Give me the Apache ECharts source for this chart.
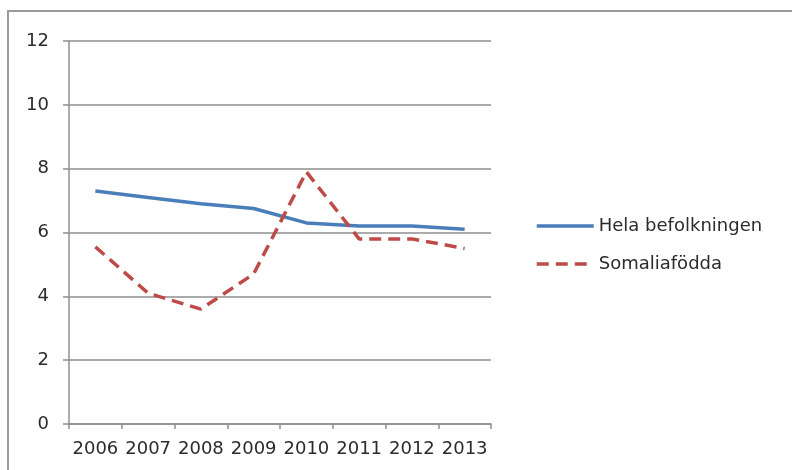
<!DOCTYPE html>
<html>
<head>
<meta charset="utf-8">
<script src="https://cdn.jsdelivr.net/npm/echarts@6/dist/echarts.min.js"></script>
<style>
html,body{margin:0;padding:0;background:#fff;overflow:hidden;}
#wrap{position:relative;width:792px;height:470px;overflow:hidden;}
#c{position:absolute;left:0;top:0;width:792px;height:470px;}
#frame{position:absolute;left:7px;top:10px;width:900px;height:600px;border-left:2px solid #9a9a9a;border-top:2px solid #9a9a9a;pointer-events:none;}
</style>
</head>
<body>
<div id="wrap">
<div id="c"></div>
<div id="frame"></div>
</div>
<script>
var years = ['2006','2007','2008','2009','2010','2011','2012','2013'];
var helaBefolkningen = [7.3, 7.1, 6.9, 6.75, 6.3, 6.2, 6.2, 6.1];
var somaliafodda = [5.55, 4.1, 3.6, 4.7, 7.9, 5.8, 5.8, 5.5];
var yTicks = [0, 2, 4, 6, 8, 10, 12];

var chart = echarts.init(document.getElementById('c'), null, {renderer: 'canvas'});
var axisGray = '#8f8f8f';
var textColor = '#2b2b2b';
chart.setOption({
  animation: false,
  backgroundColor: '#ffffff',
  grid: {left: 69, right: 301, top: 41, bottom: 46, containLabel: false},
  legend: {
    orient: 'vertical',
    left: 530,
    top: 212,
    itemWidth: 57,
    itemHeight: 14,
    itemGap: 20,
    itemStyle: {opacity: 0},
    lineStyle: {width: 3.5},
    textStyle: {fontFamily: 'DejaVu Sans', fontSize: 18, color: textColor},
    data: ['Hela befolkningen', 'Somaliafödda']
  },
  xAxis: {
    type: 'category',
    data: years,
    boundaryGap: true,
    axisLine: {lineStyle: {color: axisGray, width: 1.5}},
    axisTick: {show: true, length: 5, inside: false, lineStyle: {color: axisGray, width: 1.5}},
    axisLabel: {fontFamily: 'DejaVu Sans', fontSize: 18, color: textColor, margin: 16, interval: 0}
  },
  yAxis: {
    type: 'value',
    min: yTicks[0],
    max: yTicks[yTicks.length - 1],
    interval: 2,
    axisLine: {show: true, lineStyle: {color: axisGray, width: 1.5}},
    axisTick: {show: true, length: 6, lineStyle: {color: axisGray, width: 1.5}},
    splitLine: {show: true, lineStyle: {color: axisGray, width: 1.5}},
    axisLabel: {fontFamily: 'DejaVu Sans', fontSize: 18, color: textColor, margin: 20}
  },
  series: [{
    name: 'Hela befolkningen',
    type: 'line',
    data: helaBefolkningen,
    symbol: 'none',
    lineStyle: {color: '#4a7ebb', width: 3.5},
    itemStyle: {color: '#4a7ebb'}
  }, {
    name: 'Somaliafödda',
    type: 'line',
    data: somaliafodda,
    symbol: 'none',
    lineStyle: {color: '#be4b48', width: 3.5, type: [12, 7]},
    itemStyle: {color: '#be4b48'}
  }]
});
</script>
</body>
</html>
